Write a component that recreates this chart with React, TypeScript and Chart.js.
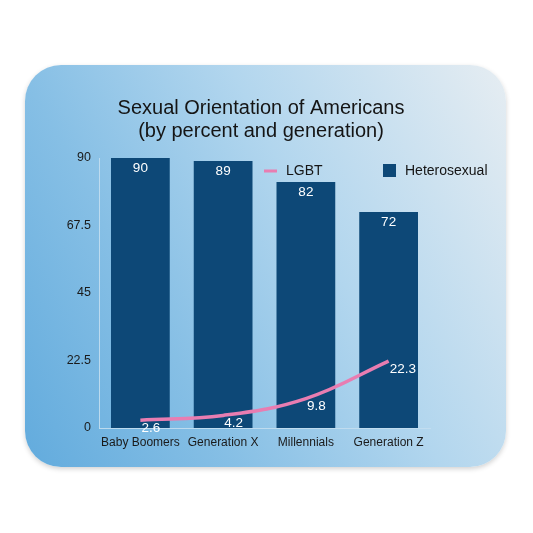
import React, { useEffect, useRef } from "react";
import { Chart, registerables } from "chart.js";

Chart.register(...registerables);

const titleLines = ["Sexual Orientation of Americans", "(by percent and generation)"];
const categories = ["Baby Boomers", "Generation X", "Millennials", "Generation Z"];
const heterosexual = [90, 89, 82, 72];
const lgbt = [2.6, 4.2, 9.8, 22.3];
const yTicks = [0, 22.5, 45, 67.5, 90];

const BAR_COLOR = "#0d4877";
const LINE_COLOR = "#e87db1";
const FONT = "'Liberation Sans', Arial, Helvetica, sans-serif";

const overlayPlugin = {
  id: "overlay",
  afterDatasetsDraw(chart: any) {
    const ctx = chart.ctx;
    ctx.save();
    // bar value labels
    const barMeta = chart.getDatasetMeta(1);
    ctx.fillStyle = "#ffffff";
    ctx.font = `13.5px ${FONT}`;
    ctx.textAlign = "center";
    ctx.textBaseline = "middle";
    barMeta.data.forEach((el: any, i: number) => {
      ctx.fillText(String(heterosexual[i]), el.x, el.y + 10);
    });
    // line value labels
    const lineMeta = chart.getDatasetMeta(0);
    ctx.textAlign = "left";
    lineMeta.data.forEach((el: any, i: number) => {
      ctx.fillText(String(lgbt[i]), el.x + 1, el.y + 8);
    });
    ctx.restore();
  },
  afterDraw(chart: any) {
    const ctx = chart.ctx;
    ctx.save();
    // title
    ctx.fillStyle = "#151515";
    ctx.font = `20px ${FONT}`;
    ctx.textAlign = "center";
    ctx.textBaseline = "middle";
    ctx.fillText(titleLines[0], 261, 108);
    ctx.fillText(titleLines[1], 261, 131);
    // legend
    ctx.font = `14px ${FONT}`;
    ctx.textAlign = "left";
    ctx.strokeStyle = LINE_COLOR;
    ctx.lineWidth = 3;
    ctx.beginPath();
    ctx.moveTo(264, 171);
    ctx.lineTo(277, 171);
    ctx.stroke();
    ctx.fillStyle = "#151515";
    ctx.fillText("LGBT", 286, 171);
    ctx.fillStyle = BAR_COLOR;
    ctx.fillRect(383, 164, 13, 13);
    ctx.fillStyle = "#151515";
    ctx.fillText("Heterosexual", 405, 171);
    ctx.restore();
  },
};

export default function App() {
  const ref = useRef<HTMLCanvasElement>(null);

  useEffect(() => {
    if (!ref.current) return;
    const chart = new Chart(ref.current, {
      type: "bar",
      data: {
        labels: categories,
        datasets: [
          {
            type: "line",
            label: "LGBT",
            data: lgbt,
            borderColor: LINE_COLOR,
            backgroundColor: LINE_COLOR,
            borderWidth: 3.5,
            pointRadius: 0,
            tension: 0.4,
            order: 0,
          } as any,
          {
            type: "bar",
            label: "Heterosexual",
            data: heterosexual,
            backgroundColor: BAR_COLOR,
            barPercentage: 0.71,
            categoryPercentage: 1,
            order: 1,
          },
        ],
      },
      options: {
        animation: false,
        responsive: false,
        maintainAspectRatio: false,
        layout: { padding: { top: 158, bottom: 83, left: 0, right: 103 } },
        plugins: {
          legend: { display: false },
          title: { display: false },
          tooltip: { enabled: false },
        },
        scales: {
          x: {
            grid: { display: false, drawTicks: false },
            border: { display: true, color: "rgba(195,222,240,0.9)", width: 1 },
            ticks: {
              color: "#1a1a1a",
              font: { family: FONT, size: 12 },
              padding: 7,
              maxRotation: 0,
              autoSkip: false,
            },
            afterFit: (s: any) => {
              s.height = 22;
            },
          },
          y: {
            min: 0,
            max: 90,
            afterBuildTicks: (s: any) => {
              s.ticks = yTicks.map((v) => ({ value: v }));
            },
            grid: { display: false, drawTicks: false },
            border: { display: true, color: "rgba(195,222,240,0.9)", width: 1 },
            ticks: {
              color: "#1a1a1a",
              font: { family: FONT, size: 12.5 },
              padding: 8,
            },
            afterFit: (s: any) => {
              s.width = 99;
            },
          },
        },
      },
      plugins: [overlayPlugin],
    });
    return () => chart.destroy();
  }, []);

  return (
    <div style={{ position: "absolute", left: 0, top: 0, width: 533, height: 533, background: "#ffffff", overflow: "hidden" }}>
      <div
        style={{
          position: "absolute",
          left: 25,
          top: 65,
          width: 481,
          height: 402,
          borderRadius: 36,
          background:
            "linear-gradient(62deg, #62abdd 0%, #86bfe5 30%, #b2d6ee 60%, #e6edf2 100%)",
          boxShadow: "0 2px 5px rgba(0,0,0,0.18)",
        }}
      />
      <canvas ref={ref} width={533} height={533} style={{ position: "absolute", left: 0, top: 0 }} />
    </div>
  );
}
